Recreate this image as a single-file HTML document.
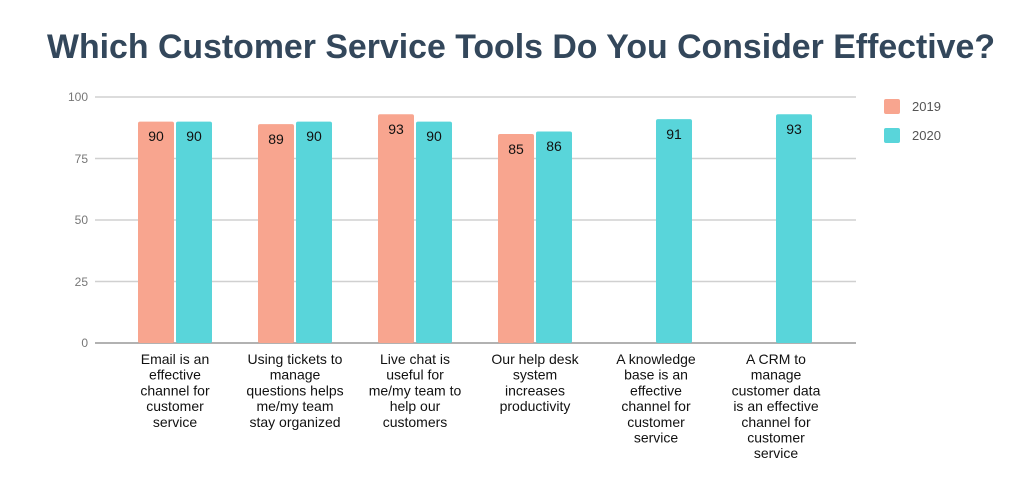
<!DOCTYPE html>
<html><head><meta charset="utf-8"><style>
html,body{margin:0;padding:0;background:#fff;}
svg{display:block;}
</style></head><body>
<svg width="1024" height="481" xmlns="http://www.w3.org/2000/svg" font-family="Liberation Sans, sans-serif">
<text x="521" y="58" text-anchor="middle" font-size="34" font-weight="bold" fill="#33475b" textLength="948" lengthAdjust="spacingAndGlyphs">Which Customer Service Tools Do You Consider Effective?</text>
<g stroke="#d0d0d0" stroke-width="1.5">
<line x1="95" y1="97" x2="856" y2="97"/>
<line x1="95" y1="158.5" x2="856" y2="158.5"/>
<line x1="95" y1="220" x2="856" y2="220"/>
<line x1="95" y1="281.5" x2="856" y2="281.5"/>
</g>
<line x1="95" y1="343" x2="856" y2="343" stroke="#999" stroke-width="1.5"/>
<g font-size="12" fill="#777" text-anchor="end">
<text x="88" y="101">100</text><text x="88" y="163">75</text><text x="88" y="224">50</text><text x="88" y="286">25</text><text x="88" y="347">0</text>
</g>
<g fill="#f8a58f">
<rect x="138" y="121.6" width="36" height="221.4" rx="2"/>
<rect x="258" y="124.1" width="36" height="218.9" rx="2"/>
<rect x="378" y="114.2" width="36" height="228.8" rx="2"/>
<rect x="498" y="134" width="36" height="209" rx="2"/>
</g>
<g fill="#59d5da">
<rect x="176" y="121.6" width="36" height="221.4" rx="2"/>
<rect x="296" y="121.6" width="36" height="221.4" rx="2"/>
<rect x="416" y="121.6" width="36" height="221.4" rx="2"/>
<rect x="536" y="131.5" width="36" height="211.5" rx="2"/>
<rect x="656" y="119.1" width="36" height="223.9" rx="2"/>
<rect x="776" y="114.2" width="36" height="228.8" rx="2"/>
</g>
<g font-size="14" fill="#111" text-anchor="middle">
<text x="156" y="141">90</text><text x="194" y="141">90</text>
<text x="276" y="144">89</text><text x="314" y="141">90</text>
<text x="396" y="134">93</text><text x="434" y="141">90</text>
<text x="516" y="154">85</text><text x="554" y="151">86</text>
<text x="674" y="139">91</text><text x="794" y="134">93</text>
</g>
<rect x="884" y="99" width="16" height="15" rx="2" fill="#f8a58f"/>
<rect x="884" y="128" width="16" height="15" rx="2" fill="#59d5da"/>
<g font-size="13" fill="#555"><text x="912" y="111">2019</text><text x="912" y="140">2020</text></g>
<g font-size="14" fill="#111" text-anchor="middle">
<text y="364"><tspan x="175">Email is an</tspan><tspan x="175" dy="15.7">effective</tspan><tspan x="175" dy="15.7">channel for</tspan><tspan x="175" dy="15.7">customer</tspan><tspan x="175" dy="15.7">service</tspan></text>
<text y="364"><tspan x="295">Using tickets to</tspan><tspan x="295" dy="15.7">manage</tspan><tspan x="295" dy="15.7">questions helps</tspan><tspan x="295" dy="15.7">me/my team</tspan><tspan x="295" dy="15.7">stay organized</tspan></text>
<text y="364"><tspan x="415">Live chat is</tspan><tspan x="415" dy="15.7">useful for</tspan><tspan x="415" dy="15.7">me/my team to</tspan><tspan x="415" dy="15.7">help our</tspan><tspan x="415" dy="15.7">customers</tspan></text>
<text y="364"><tspan x="535">Our help desk</tspan><tspan x="535" dy="15.7">system</tspan><tspan x="535" dy="15.7">increases</tspan><tspan x="535" dy="15.7">productivity</tspan></text>
<text y="364"><tspan x="656">A knowledge</tspan><tspan x="656" dy="15.7">base is an</tspan><tspan x="656" dy="15.7">effective</tspan><tspan x="656" dy="15.7">channel for</tspan><tspan x="656" dy="15.7">customer</tspan><tspan x="656" dy="15.7">service</tspan></text>
<text y="364"><tspan x="776">A CRM to</tspan><tspan x="776" dy="15.7">manage</tspan><tspan x="776" dy="15.7">customer data</tspan><tspan x="776" dy="15.7">is an effective</tspan><tspan x="776" dy="15.7">channel for</tspan><tspan x="776" dy="15.7">customer</tspan><tspan x="776" dy="15.7">service</tspan></text>
</g>
</svg>
</body></html>
